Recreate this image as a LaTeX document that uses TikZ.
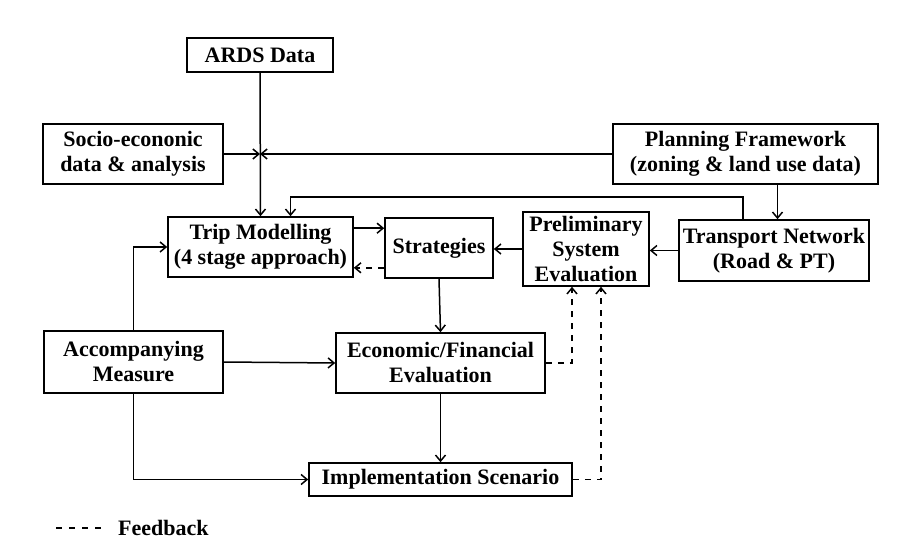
\documentclass[tikz,border=0pt]{standalone}
\usepackage{fontspec}
\setmainfont{Liberation Serif}
\usetikzlibrary{arrows.meta}
\begin{document}
\begin{tikzpicture}[x=1pt,y=-1pt,
  box/.style={draw,line width=1.6pt,inner sep=0pt,align=center,
    font=\fontsize{22}{25}\selectfont\bfseries},
  arr/.style={line width=1.5pt,-{Straight Barb[length=6pt,width=10pt]}},
  fb/.style={arr,dash pattern=on 6pt off 6pt},
  lbl/.style={font=\fontsize{22}{25}\selectfont\bfseries,inner sep=0pt}]
\useasboundingbox (0,0) rectangle (906,556);
\node[box,minimum width=146pt,minimum height=34pt] (ards) at (260,55) {ARDS Data};
\node[box,minimum width=180pt,minimum height=60pt] (socio) at (133,154) {Socio-econonic\\data \& analysis};
\node[box,minimum width=265pt,minimum height=60pt] (plan) at (745.5,154) {Planning Framework\\(zoning \& land use data)};
\node[box,minimum width=185pt,minimum height=60pt] (trip) at (260.5,247) {Trip Modelling\\(4 stage approach)};
\node[box,minimum width=108pt,minimum height=60pt] (strat) at (439,248) {Strategies};
\node[box,minimum width=126pt,minimum height=74pt] (prelim) at (586,249) {Preliminary\\System\\Evaluation};
\node[box,minimum width=190pt,minimum height=61pt] (trans) at (774,250.5) {Transport Network\\(Road \& PT)};
\node[box,minimum width=209pt,minimum height=60pt] (econ) at (440.5,363) {Economic/Financial\\Evaluation};
\node[box,minimum width=179pt,minimum height=62pt] (acc) at (133.5,362) {Accompanying\\Measure};
\node[box,minimum width=263pt,minimum height=33pt] (impl) at (440.5,479.5) {Implementation Scenario};
\node[lbl,anchor=west] (legend) at (118,528) {Feedback};
\coordinate (lgA) at (56,528);
\coordinate (lgB) at (107,528);
% junction
\coordinate (J) at (ards.south |- socio.east);
\draw[arr] (ards.south) -- (trip.north);
\draw[arr] (socio.east) -- (J);
\draw[arr] (plan.west) -- (J);
% planning -> transport
\coordinate (pt) at ([xshift=32pt]plan.south);
\draw[arr] (pt) -- (pt |- trans.north);
% transport -> trip loop
\coordinate (fbA) at ([xshift=-31pt]trans.north);
\coordinate (fbB) at ([xshift=30pt]trip.north);
\coordinate (fbY) at (0,197);
\draw[arr] (fbA) |- (fbB |- fbY) -- (fbB);
% transport -> prelim -> strategies
\draw[arr] (trans.west) -- (prelim.east |- trans.west);
\draw[arr] (prelim.west) -- (strat.east |- prelim.west);
% trip <-> strategies
\coordinate (ts) at ([yshift=-12pt]trip.north east);
\draw[arr] (ts) -- (strat.west |- ts);
\coordinate (st) at ([yshift=10pt]trip.south east);
\draw[fb] (strat.west |- st) -- (st);
% strategies -> econ -> impl
\draw[arr] (strat.south) -- (econ.north);
\draw[arr] (econ.south) -- (impl.north);
% feedback to prelim
\draw[fb] (econ.east) -| ([xshift=-14pt]prelim.south);
\draw[fb] (impl.east) -| ([xshift=15pt]prelim.south);
% accompanying
\draw[arr] (acc.north) |- (trip.west);
\draw[arr] (acc.east) -- (econ.west);
\draw[arr] (acc.south) |- (impl.west);
% legend
\draw[line width=1.5pt,dash pattern=on 6pt off 7pt] (lgA) -- (lgB);
\end{tikzpicture}
\end{document}
